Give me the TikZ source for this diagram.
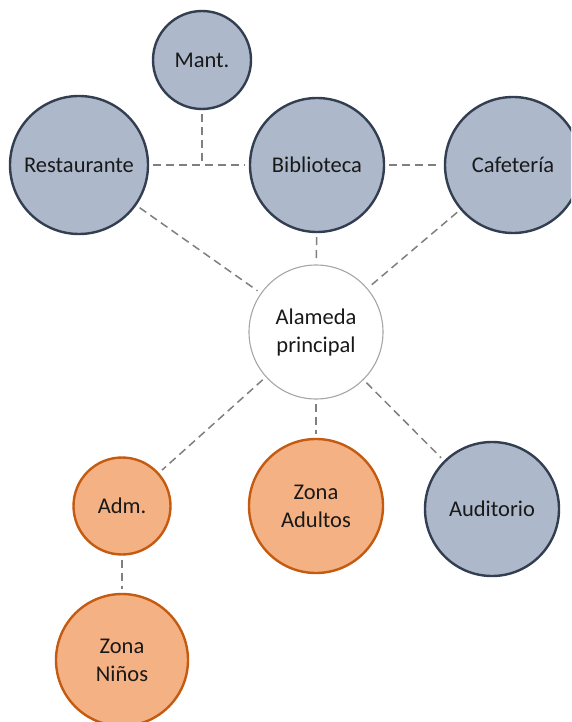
\documentclass[tikz,border=0pt]{standalone}
\usepackage{fontspec}
\setmainfont{Carlito}
\definecolor{bluefill}{HTML}{ADB9CA}
\definecolor{blueline}{HTML}{333F50}
\definecolor{orfill}{HTML}{F4B183}
\definecolor{orline}{HTML}{C55A11}
\definecolor{dashgray}{HTML}{7F7F7F}
\definecolor{whiteline}{HTML}{A6A6A6}
\tikzset{
  txt/.style={align=center, text=black!90, font=\fontsize{22.5}{28}\selectfont},
  bnode/.style={circle, fill=bluefill, draw=blueline, line width=2.4pt, inner sep=0pt, txt},
  onode/.style={circle, fill=orfill, draw=orline, line width=2.4pt, inner sep=0pt, txt},
  wnode/.style={circle, fill=white, draw=whiteline, line width=1.1pt, inner sep=0pt, txt},
  conn/.style={draw=dashgray, line width=1.5pt, dash pattern=on 8pt off 5pt, shorten <=4pt, shorten >=4pt},
}
\begin{document}
\begin{tikzpicture}[x=1pt,y=-1pt]
\useasboundingbox (0,0) rectangle (571,722);
\begin{scope}
\clip (0,0) rectangle (571,722);
\node[bnode, minimum size=98pt] (mant) at (202,60) {Mant.};
\node[bnode, minimum size=138pt] (rest) at (79,165) {Restaurante};
\node[bnode, minimum size=134pt] (bib) at (317,165) {Biblioteca};
\node[bnode, minimum size=136pt] (caf) at (513,165) {Cafetería};
\node[wnode, minimum size=134pt] (alam) at (316,332) {Alameda\\principal};
\node[onode, minimum size=97pt] (adm) at (122,506) {Adm.};
\node[onode, minimum size=134pt] (adul) at (316,506) {Zona\\Adultos};
\node[bnode, minimum size=134pt] (aud) at (492,509) {Auditorio};
\node[onode, minimum size=132pt] (nin) at (122,660) {Zona\\Niños};
\coordinate (j) at (202,165);

\draw[conn, shorten >=0pt] (mant) -- (j);
\draw[conn] (rest) -- (bib);
\draw[conn] (bib) -- (caf);
\draw[conn] (rest) -- (alam);
\draw[conn] (bib) -- (alam);
\draw[conn] (caf) -- (alam);
\draw[conn] (alam) -- (adm);
\draw[conn] (alam) -- (adul);
\draw[conn] (alam) -- (aud);
\draw[conn] (adm) -- (nin);
\end{scope}
\end{tikzpicture}
\end{document}
